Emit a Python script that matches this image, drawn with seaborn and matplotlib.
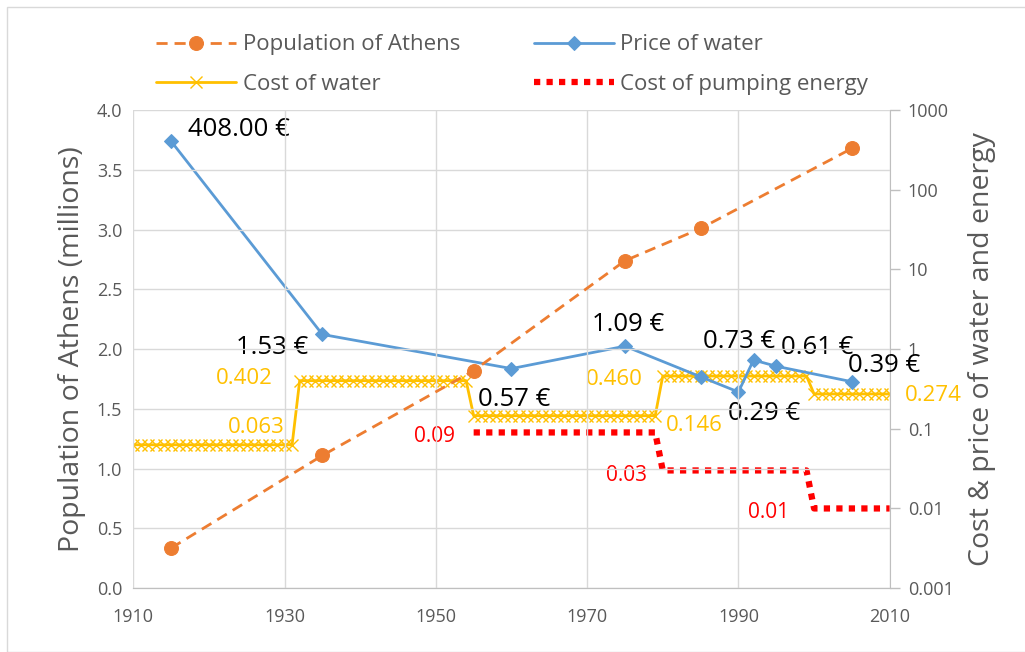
import numpy as np
import matplotlib
matplotlib.use("Agg")
import matplotlib.pyplot as plt
import seaborn as sns

# population of Athens (millions)
pop_years = [1915, 1935, 1955, 1975, 1985, 2005]
pop_values = [0.335, 1.11, 1.82, 2.74, 3.01, 3.68]

# price of water (EUR)
price_years = [1915, 1935, 1960, 1975, 1985, 1990, 1992, 1995, 2005]
price_values = [408.0, 1.53, 0.57, 1.09, 0.45, 0.29, 0.73, 0.61, 0.39]
price_labels = ["408.00 €", "1.53 €", "0.57 €", "1.09 €", None, "0.29 €", "0.73 €", "0.61 €", "0.39 €"]

# cost of water, constant over periods
cost_start = [1910, 1932, 1955, 1980, 2000]
cost_end = [1931, 1954, 1979, 1999, 2010]
cost_values = [0.063, 0.402, 0.146, 0.460, 0.274]

# cost of pumping energy
energy_years = [1955, 1979, 1980, 1999, 2000, 2010]
energy_values = [0.09, 0.09, 0.03, 0.03, 0.01, 0.01]

ORANGE = "#ED7D31"
BLUE = "#5B9BD5"
YELLOW = "#FFC000"
RED = "#FF0000"
GRID = "#D9D9D9"
TXT = "#595959"

sns.set_style("white")
plt.rcParams["font.family"] = ["Open Sans", "DejaVu Sans"]

fig = plt.figure(figsize=(10.25, 6.52), dpi=100)
ax = fig.add_axes([0.13, 0.098, 0.738, 0.733])
ax2 = ax.twinx()

# yearly points for the stepped water cost
cost_years = np.concatenate([np.arange(s, e + 1) for s, e in zip(cost_start, cost_end)])
cost_yearly = np.concatenate([[v] * (e - s + 1) for s, e, v in zip(cost_start, cost_end, cost_values)])

sns.lineplot(x=pop_years, y=pop_values, ax=ax, color=ORANGE, linestyle=(0, (4, 2.5)),
             linewidth=2, marker="o", markersize=10, markeredgecolor=ORANGE,
             label="Population of Athens", legend=False)
sns.lineplot(x=cost_years, y=cost_yearly, ax=ax2, color=YELLOW, linewidth=2,
             marker="x", markersize=9, markeredgewidth=1, markeredgecolor=YELLOW,
             label="Cost of water", legend=False)
sns.lineplot(x=price_years, y=price_values, ax=ax2, color=BLUE, linewidth=2,
             marker="D", markersize=7.5, markeredgecolor=BLUE,
             label="Price of water", legend=False)
sns.lineplot(x=energy_years, y=energy_values, ax=ax2, color=RED, linewidth=4.5,
             linestyle=(0, (1, 1)), label="Cost of pumping energy", legend=False)

ax.set_zorder(ax2.get_zorder() + 1)
ax.patch.set_visible(False)

# axes
ax.set_xlim(1910, 2010)
ax.set_ylim(0, 4.0)
ax.set_xticks(range(1910, 2011, 20))
ax.set_yticks(np.arange(0, 4.01, 0.5))
ax.set_yticklabels([f"{v:.1f}" for v in np.arange(0, 4.01, 0.5)])
ax.grid(True, color=GRID, linewidth=1)
ax.set_axisbelow(True)
ax.tick_params(axis="both", length=0, labelsize=13, colors=TXT, pad=8)
ax.tick_params(axis="x", pad=14)
ax.set_ylabel("Population of Athens (millions)", fontsize=20.5, color=TXT, labelpad=8)

ax2.set_yscale("log")
ax2.set_ylim(0.001, 1000)
dec = [0.001, 0.01, 0.1, 1, 10, 100, 1000]
ax2.set_yticks(dec)
ax2.set_yticklabels(["0.001", "0.01", "0.1", "1", "10", "100", "1000"])
ax2.minorticks_off()
ax2.tick_params(axis="y", length=7, width=1, labelsize=13, colors=TXT, pad=6)
ax2.tick_params(axis="y", color="#BFBFBF")
ax2.set_ylabel("Cost & price of water and energy", fontsize=20.5, color=TXT, labelpad=10)

for a in (ax, ax2):
    for s in ("left", "top"):
        a.spines[s].set_visible(False)
    a.spines["bottom"].set_color("#BFBFBF")
    a.spines["right"].set_color("#BFBFBF")
ax.spines["right"].set_visible(False)

# price labels
price_off = [(17, 12, "left"), (-14, -13, "right"), (3, -31, "center"), (3, 22, "center"), None,
             (26, -22, "center"), (-14, 19, "center"), (41, 19, "center"), (32, 16, "center")]
for x, y, lab, off in zip(price_years, price_values, price_labels, price_off):
    if lab is None:
        continue
    ax2.annotate(lab, xy=(x, y), xytext=(off[0], off[1]), textcoords="offset pixels",
                 ha=off[2], va="center", fontsize=18.5, color="black")

# cost of water labels
cost_lab_x = [1931, 1932, 1979, 1980, 2010]
cost_lab_v = [0.063, 0.402, 0.146, 0.460, 0.274]
cost_off = [(-7, 17, "right"), (-27, 2, "right"), (11, -10, "left"), (-20, -3, "right"), (15, -2, "left")]
for x, y, off in zip(cost_lab_x, cost_lab_v, cost_off):
    ax2.annotate(f"{y:.3f}", xy=(x, y), xytext=(off[0], off[1]), textcoords="offset pixels",
                 ha=off[2], va="center", fontsize=16, color=YELLOW)

# energy labels
energy_lab_x = [1955, 1980, 2000]
energy_lab_v = [0.09, 0.03, 0.01]
energy_off = [(-19, -4), (-16, -5), (-25, -4)]
for x, y, off in zip(energy_lab_x, energy_lab_v, energy_off):
    ax2.annotate(f"{y:.2f}", xy=(x, y), xytext=off, textcoords="offset pixels",
                 ha="right", va="center", fontsize=15, color=RED)

# legend
h1, l1 = ax.get_legend_handles_labels()
h2, l2 = ax2.get_legend_handles_labels()
hd = dict(zip(l1 + l2, h1 + h2))
order = ["Population of Athens", "Cost of water", "Price of water", "Cost of pumping energy"]
leg = fig.legend([hd[k] for k in order], order, loc="upper left", ncol=2, frameon=False,
                 bbox_to_anchor=(0.133, 0.978), fontsize=16, handlelength=3.6,
                 columnspacing=3.3, labelspacing=0.85, handletextpad=0.3)
for t in leg.get_texts():
    t.set_color(TXT)

# light border around the chart
fig.patches.append(plt.Rectangle((0.007, 0.0), 1.2, 0.99, transform=fig.transFigure,
                                 fill=False, edgecolor="#D9D9D9", linewidth=1))

fig.savefig("out.png", dpi=100)
